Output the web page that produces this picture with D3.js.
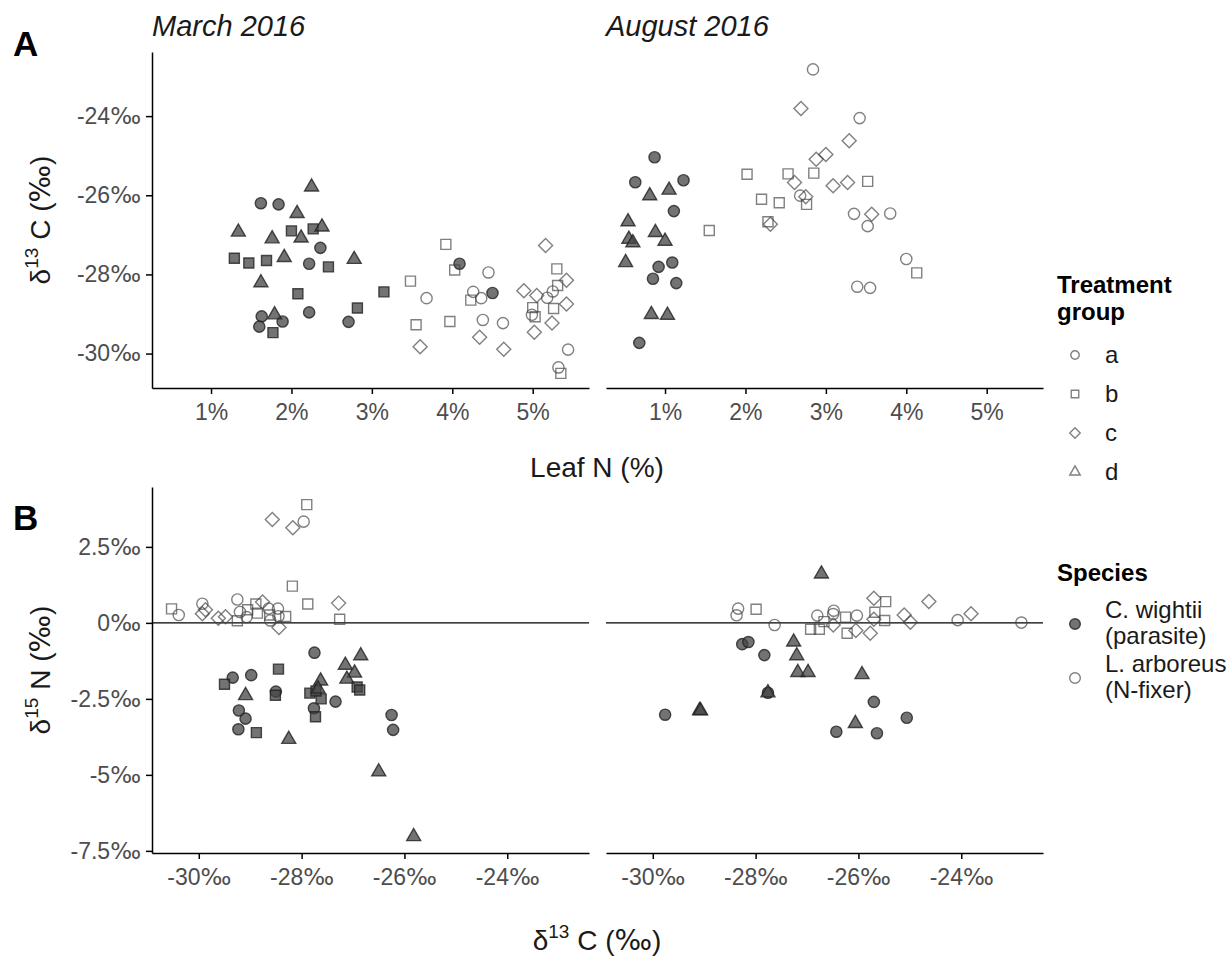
<!DOCTYPE html>
<html lang="en">
<head>
<meta charset="utf-8">
<title>Leaf N and isotopes</title>
<script src="https://cdn.jsdelivr.net/npm/d3@7"></script>
<style>
  body { margin: 0; background: #fff; }
  svg text { font-family: 'Liberation Sans', Arial, Helvetica, sans-serif; }
  .pm { font-family: 'DejaVu Sans', sans-serif; }
</style>
</head>
<body>
<script>
// ---- data ----
// panel A rows: [treatment, leaf N (%), d13C (permil)]
// panel B rows: [treatment, d13C (permil), d15N (permil)]
var seasons = ["March 2016", "August 2016"];
var treatments = ["a", "b", "c", "d"];
var speciesLines = [["C. wightii", "(parasite)"], ["L. arboreus", "(N-fixer)"]];

var leafTicks = [1, 2, 3, 4, 5];
var d13cTicks = [-30, -28, -26, -24];
var d15nTicks = [-7.5, -5, -2.5, 0, 2.5];

var marchParasiteA = [
  ["a",1.62,-26.20],["a",1.84,-26.23],["a",2.36,-27.33],["a",2.22,-27.73],["a",1.63,-29.06],["a",1.89,-29.19],
  ["a",2.22,-28.96],["a",1.60,-29.32],["a",2.71,-29.20],["a",4.09,-27.73],["a",4.50,-28.47],
  ["b",2.00,-26.90],["b",2.27,-26.85],["b",1.29,-27.59],["b",1.47,-27.71],["b",1.69,-27.65],["b",2.46,-27.81],
  ["b",2.08,-28.49],["b",3.15,-28.44],["b",2.82,-28.85],["b",1.77,-29.47],
  ["d",2.25,-25.79],["d",2.07,-26.46],["d",1.34,-26.93],["d",2.38,-26.80],["d",1.76,-27.10],["d",2.12,-27.08],
  ["d",1.91,-27.57],["d",2.78,-27.62],["d",1.62,-28.21],["d",1.79,-29.02]
];
var marchFixerA = [
  ["a",4.45,-27.95],["a",3.68,-28.60],["a",4.26,-28.44],["a",4.36,-28.60],["a",5.25,-28.43],["a",5.18,-28.59],
  ["a",4.99,-29.02],["a",4.38,-29.15],["a",4.63,-29.23],["a",5.44,-29.90],["a",5.32,-30.35],
  ["b",3.92,-27.24],["b",4.03,-27.89],["b",3.48,-28.17],["b",4.23,-28.65],["b",5.30,-27.86],["b",5.31,-28.28],
  ["b",5.26,-28.86],["b",5.00,-28.84],["b",5.03,-29.07],["b",3.55,-29.27],["b",3.97,-29.19],["b",5.35,-30.50],
  ["c",5.16,-27.27],["c",5.42,-28.15],["c",4.89,-28.41],["c",5.05,-28.53],["c",5.42,-28.75],["c",5.24,-29.23],
  ["c",5.02,-29.46],["c",4.34,-29.59],["c",3.60,-29.83],["c",4.64,-29.89]
];
var augustParasiteA = [
  ["a",0.87,-25.04],["a",0.63,-25.67],["a",1.23,-25.62],["a",1.11,-26.40],["a",0.92,-27.81],["a",1.09,-27.70],
  ["a",0.85,-28.11],["a",1.14,-28.22],["a",0.68,-29.73],
  ["d",0.81,-26.01],["d",1.05,-25.87],["d",0.54,-26.67],["d",0.88,-26.94],["d",1.00,-27.16],["d",0.55,-27.11],
  ["d",0.60,-27.20],["d",0.51,-27.70],["d",0.83,-29.01],["d",1.03,-29.03]
];
var augustFixerA = [
  ["a",2.84,-22.82],["a",2.68,-26.01],["a",3.42,-24.05],["a",3.35,-26.47],["a",3.80,-26.46],["a",3.52,-26.78],
  ["a",4.00,-27.61],["a",3.39,-28.31],["a",3.55,-28.34],
  ["b",2.02,-25.47],["b",2.53,-25.46],["b",2.85,-25.44],["b",2.76,-26.23],["b",2.20,-26.10],["b",2.42,-26.19],
  ["b",2.28,-26.67],["b",1.55,-26.89],["b",3.52,-25.65],["b",4.13,-27.96],
  ["c",2.69,-23.81],["c",2.88,-25.09],["c",3.00,-24.97],["c",3.29,-24.62],["c",2.61,-25.68],["c",2.75,-26.04],
  ["c",2.31,-26.73],["c",3.09,-25.76],["c",3.27,-25.68],["c",3.57,-26.48]
];

var marchParasiteB = [
  ["a",-27.75,-0.98],["a",-29.34,-1.80],["a",-28.98,-1.72],["a",-28.50,-2.26],["a",-27.34,-2.59],["a",-27.76,-2.81],
  ["a",-29.22,-2.88],["a",-29.09,-3.15],["a",-29.23,-3.50],["a",-26.25,-3.03],["a",-26.22,-3.52],
  ["b",-28.45,-1.52],["b",-29.50,-2.02],["b",-28.51,-2.38],["b",-27.84,-2.31],["b",-27.62,-2.50],["b",-27.73,-3.09],
  ["b",-26.92,-2.11],["b",-26.87,-2.21],["b",-28.88,-3.61],["b",-27.72,-2.24],
  ["d",-26.85,-1.08],["d",-27.15,-1.39],["d",-26.97,-1.65],["d",-27.12,-1.85],["d",-29.09,-2.39],["d",-27.63,-1.91],
  ["d",-27.68,-2.17],["d",-28.25,-3.83],["d",-26.50,-4.90],["d",-25.82,-7.03]
];
var marchFixerB = [
  ["a",-27.96,3.33],["a",-30.39,0.26],["a",-29.93,0.63],["a",-29.25,0.77],["a",-29.20,0.36],["a",-29.07,0.19],
  ["a",-28.64,0.47],["a",-28.46,0.47],["a",-28.61,0.08],["a",-28.45,0.22],
  ["b",-27.90,3.89],["b",-28.18,1.21],["b",-27.88,0.62],["b",-27.26,0.12],["b",-30.53,0.46],["b",-29.25,0.07],
  ["b",-29.05,0.43],["b",-28.89,0.62],["b",-28.86,0.32],["b",-28.62,0.26],["b",-28.31,0.21],
  ["c",-28.57,3.40],["c",-28.17,3.13],["c",-27.28,0.65],["c",-29.87,0.43],["c",-29.93,0.30],["c",-29.62,0.15],
  ["c",-29.48,0.20],["c",-28.76,0.69],["c",-28.44,-0.15]
];
var augustParasiteB = [
  ["a",-28.26,-0.70],["a",-28.14,-0.63],["a",-27.83,-1.06],["a",-27.76,-2.30],["a",-25.70,-2.60],["a",-29.76,-3.02],
  ["a",-25.06,-3.12],["a",-26.43,-3.58],["a",-25.64,-3.63],
  ["d",-26.72,1.61],["d",-27.26,-0.63],["d",-27.20,-1.08],["d",-27.18,-1.63],["d",-26.98,-1.63],["d",-25.93,-1.70],
  ["d",-27.76,-2.30],["d",-29.09,-2.88],["d",-29.07,-2.89],["d",-26.06,-3.31]
];
var augustFixerB = [
  ["a",-28.34,0.47],["a",-28.37,0.25],["a",-27.63,-0.07],["a",-26.80,0.24],["a",-26.48,0.40],["a",-26.49,0.29],
  ["a",-26.03,0.24],["a",-24.07,0.09],["a",-22.83,0.01],
  ["b",-27.99,0.45],["b",-25.47,0.70],["b",-26.25,0.19],["b",-25.68,0.35],["b",-25.49,0.08],["b",-26.93,-0.21],
  ["b",-26.76,-0.21],["b",-26.22,-0.34],["b",-26.67,0.04],
  ["c",-25.70,0.81],["c",-24.63,0.70],["c",-23.81,0.30],["c",-25.11,0.26],["c",-24.99,0.02],["c",-25.70,0.12],
  ["c",-26.49,-0.07],["c",-26.05,-0.25],["c",-25.77,-0.34]
];

// ---- layout ----
var W = 1230, H = 958;
var panelW = 437;
var colX = [152, 606];
var topA = 52, hA = 336;
var topB = 487, hB = 366;
var textCol = "#1a1a1a";

var svg = d3.select("body").append("svg")
    .attr("width", W)
    .attr("height", H);

var xA = d3.scaleLinear().domain([0.266, 5.70]).range([0, panelW]);
var yA = d3.scaleLinear().domain([-30.87, -22.38]).range([hA, 0]);
var xB = d3.scaleLinear().domain([-30.91, -22.41]).range([0, panelW]);
var yB = d3.scaleLinear().domain([-7.57, 4.47]).range([hB, 0]);

var pct = function(d) { return d + "%"; };
var permil = function(d) { return d + "\u2030"; };

// shapes like R pch 21-24
function shapePath(t, k) {
    k = k || 1;
    if (t === "a") return d3.symbol(d3.symbolCircle, Math.PI * 5.6 * 5.6 * k * k)();
    if (t === "b") return d3.symbol(d3.symbolSquare, 100 * k * k)();
    if (t === "c") {
        var r = 7 * k;
        return "M0," + (-r) + "L" + r + ",0L0," + r + "L" + (-r) + ",0Z";
    }
    var s = 14 * k, h = s * Math.sqrt(3) / 2;
    return "M0," + (-2 * h / 3) + "L" + (s / 2) + "," + (h / 3) + "L" + (-s / 2) + "," + (h / 3) + "Z";
}

function drawPoints(g, rows, x, y, filled) {
    g.selectAll(null)
        .data(rows)
        .enter()
        .append("path")
        .attr("d", function(d) { return shapePath(d[0]); })
        .attr("transform", function(d) { return "translate(" + x(d[1]) + "," + y(d[2]) + ")"; })
        .attr("fill", filled ? "#444" : "none")
        .attr("fill-opacity", filled ? 0.75 : 0)
        .attr("stroke", filled ? "#222" : "#444")
        .attr("stroke-opacity", filled ? 0.8 : 0.68)
        .attr("stroke-width", 1.4);
}

// put the per-mille sign in a wider face, as in the original
function splitPermil(textSel) {
    textSel.each(function() {
        var t = d3.select(this), s = t.text();
        if (s.slice(-1) !== "\u2030") return;
        t.text(s.slice(0, -1));
        t.append("tspan").attr("class", "pm").text("\u2030");
    });
}

function styleAxis(g) {
    g.select(".domain").attr("stroke", "#000").attr("stroke-width", 1.5);
    g.selectAll(".tick line").attr("stroke", "#000").attr("stroke-width", 1.5);
    g.selectAll(".tick text").attr("fill", "#4d4d4d").style("font-size", "23px");
    splitPermil(g.selectAll(".tick text"));
}

function panel(left, top, h, x, y, ticksX, fmtX, ticksY, fmtY, showY, zeroLine, parRows, fixRows) {
    var g = svg.append("g").attr("transform", "translate(" + left + "," + top + ")");
    if (zeroLine) {
        g.append("line")
            .attr("x1", 0).attr("x2", panelW)
            .attr("y1", y(0)).attr("y2", y(0))
            .attr("stroke", "#000").attr("stroke-width", 1.3);
    }
    drawPoints(g, parRows, x, y, true);
    drawPoints(g, fixRows, x, y, false);

    var ax = g.append("g")
        .attr("transform", "translate(0," + h + ")")
        .call(d3.axisBottom(x).tickValues(ticksX).tickFormat(fmtX).tickSize(6).tickSizeOuter(0).tickPadding(10));
    styleAxis(ax);
    if (showY) {
        var ay = g.append("g")
            .call(d3.axisLeft(y).tickValues(ticksY).tickFormat(fmtY).tickSize(6).tickSizeOuter(0).tickPadding(5));
        styleAxis(ay);
    }
}

panel(colX[0], topA, hA, xA, yA, leafTicks, pct, d13cTicks, permil, true, false, marchParasiteA, marchFixerA);
panel(colX[1], topA, hA, xA, yA, leafTicks, pct, d13cTicks, permil, false, false, augustParasiteA, augustFixerA);
panel(colX[0], topB, hB, xB, yB, d13cTicks, permil, d15nTicks, permil, true, true, marchParasiteB, marchFixerB);
panel(colX[1], topB, hB, xB, yB, d13cTicks, permil, d15nTicks, permil, false, true, augustParasiteB, augustFixerB);

// facet titles
seasons.forEach(function(s, i) {
    svg.append("text")
        .attr("x", colX[i]).attr("y", 36)
        .style("font-size", "29px").style("font-style", "italic")
        .attr("fill", textCol)
        .text(s);
});

// panel tags
svg.append("text").attr("x", 13).attr("y", 56).style("font-size", "35px").style("font-weight", "bold").text("A");
svg.append("text").attr("x", 13).attr("y", 530).style("font-size", "35px").style("font-weight", "bold").text("B");

// axis titles
function isoLabel(sel, sup, letter) {
    sel.append("tspan").text("\u03b4");
    sel.append("tspan").attr("dy", -12).style("font-size", "19px").text(sup);
    sel.append("tspan").attr("dy", 12).text(" " + letter + " (");
    sel.append("tspan").attr("class", "pm").text("\u2030");
    sel.append("tspan").text(")");
}
var tA = svg.append("text")
    .attr("transform", "translate(50," + (topA + hA / 2) + ") rotate(-90)")
    .attr("text-anchor", "middle").style("font-size", "28px").attr("fill", textCol);
isoLabel(tA, "13", "C");
var tB = svg.append("text")
    .attr("transform", "translate(50," + (topB + hB / 2) + ") rotate(-90)")
    .attr("text-anchor", "middle").style("font-size", "28px").attr("fill", textCol);
isoLabel(tB, "15", "N");
svg.append("text")
    .attr("x", 597).attr("y", 477)
    .attr("text-anchor", "middle").style("font-size", "28px").attr("fill", textCol)
    .text("Leaf N (%)");
var tX = svg.append("text")
    .attr("x", 597).attr("y", 950)
    .attr("text-anchor", "middle").style("font-size", "28px").attr("fill", textCol);
isoLabel(tX, "13", "C");

// legends
var lg = svg.append("g");
lg.append("text").attr("x", 1057).attr("y", 293).style("font-size", "24px").style("font-weight", "bold").text("Treatment");
lg.append("text").attr("x", 1057).attr("y", 320).style("font-size", "24px").style("font-weight", "bold").text("group");
treatments.forEach(function(t, i) {
    var cy = 355 + i * 39;
    lg.append("path")
        .attr("d", shapePath(t, 0.75))
        .attr("transform", "translate(1075," + cy + ")")
        .attr("fill", "none").attr("stroke", "#444").attr("stroke-opacity", 0.68).attr("stroke-width", 1.4);
    lg.append("text").attr("x", 1105).attr("y", cy + 8).style("font-size", "24px").attr("fill", textCol).text(t);
});
lg.append("text").attr("x", 1057).attr("y", 581).style("font-size", "24px").style("font-weight", "bold").text("Species");
speciesLines.forEach(function(lines, i) {
    var cy = 624 + i * 54;
    lg.append("path")
        .attr("d", shapePath("a", 0.95))
        .attr("transform", "translate(1075," + cy + ")")
        .attr("fill", i === 0 ? "#444" : "none").attr("fill-opacity", 0.75)
        .attr("stroke", i === 0 ? "#222" : "#444").attr("stroke-opacity", i === 0 ? 0.8 : 0.68).attr("stroke-width", 1.4);
    lines.forEach(function(l, j) {
        lg.append("text").attr("x", 1105).attr("y", cy - 6 + j * 26).style("font-size", "24px").attr("fill", textCol).text(l);
    });
});
</script>
</body>
</html>
